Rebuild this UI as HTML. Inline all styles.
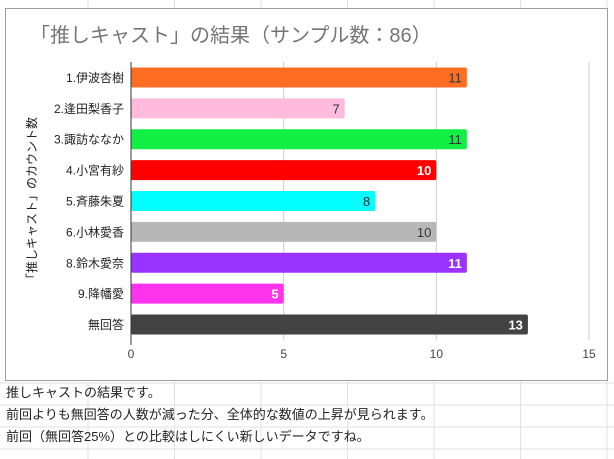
<!DOCTYPE html>
<html><head><meta charset="utf-8"><style>
body{margin:0;width:614px;height:459px;overflow:hidden;background:#fff;font-family:"Liberation Sans","Noto Sans CJK JP",sans-serif;}
svg{position:absolute;left:0;top:0}
</style></head><body>
<svg width="614" height="459">
<g id="grid"></g>
<rect x="5.5" y="8.5" width="602" height="372" fill="#fff" stroke="#9e9e9e"/>
<text x="30" y="42" font-size="20" fill="#757575">「推しキャスト」の結果（サンプル数：86）</text>
<text transform="translate(36,201) rotate(-90)" text-anchor="middle" font-size="12" fill="#222">「推しキャスト」のカウント数</text>
<g id="plot"></g>
<text x="6" y="397" font-size="13" fill="#222">推しキャストの結果です。</text>
<text x="6" y="419" font-size="13" fill="#222">前回よりも無回答の人数が減った分、全体的な数値の上昇が見られます。</text>
<text x="6" y="441" font-size="13" fill="#222">前回（無回答25%）との比較はしにくい新しいデータですね。</text>
</svg>
<script>
const categories=["1.伊波杏樹","2.逢田梨香子","3.諏訪ななか","4.小宮有紗","5.斉藤朱夏","6.小林愛香","8.鈴木愛奈","9.降幡愛","無回答"];
const values=[11,7,11,10,8,10,11,5,13];
const colors=["#ff6d22","#ffbbdd","#11ee44","#ff0000","#00ffff","#b7b7b7","#9933ff","#ff33ee","#434343"];
const labelColors=["#333","#333","#333","#fff","#333","#333","#fff","#fff","#fff"];
const ticks=[0,5,10,15];
const NS="http://www.w3.org/2000/svg";
const x0=131,x1=589,xmax=15,yTop=62,yBot=340;
const xs=v=>x0+(x1-x0)*v/xmax;
const step=(yBot-yTop)/categories.length;
const yc=i=>yTop+step*(i+0.5);
const plotG=document.getElementById('plot');
const gridG=document.getElementById('grid');
function mk(t,a,p){const e=document.createElementNS(NS,t);for(const k in a)e.setAttribute(k,a[k]);(p||plotG).appendChild(e);return e;}
for(let x=88;x<614;x+=86.5){const l=mk('line',{x1:x,x2:x,y1:0,y2:459,stroke:'#e2e2e2'},gridG);

}
for(let y=383;y<459;y+=22){const l=mk('line',{x1:0,x2:614,y1:y,y2:y,stroke:'#e2e2e2'},gridG);

}
ticks.forEach(t=>{
 if(t>0){const g=mk('line',{x1:xs(t),x2:xs(t),y1:yTop,y2:yBot,stroke:'#ccc'});
 
 }
 const tx=mk('text',{x:xs(t),y:358,'text-anchor':'middle','font-size':12,fill:'#444'});tx.textContent=t;
 
 
});
categories.forEach((c,i)=>{
 const r=mk('rect',{x:xs(0),y:yc(i)-10,width:xs(values[i])-xs(0),height:20,rx:2,fill:colors[i]});
 
 
 const l=mk('text',{x:xs(values[i])-5,y:yc(i)+5,'text-anchor':'end','font-size':13,fill:labelColors[i],'font-weight':labelColors[i]=='#fff'?'bold':'normal'});l.textContent=values[i];
 
 
 const cl=mk('text',{x:124,y:yc(i)+4.5,'text-anchor':'end','font-size':12,fill:'#222'});cl.textContent=c;
 
 
});
const ax=mk('line',{x1:x0,x2:x0,y1:yTop,y2:yBot+5,stroke:'#333'});


</script>
</body></html>
